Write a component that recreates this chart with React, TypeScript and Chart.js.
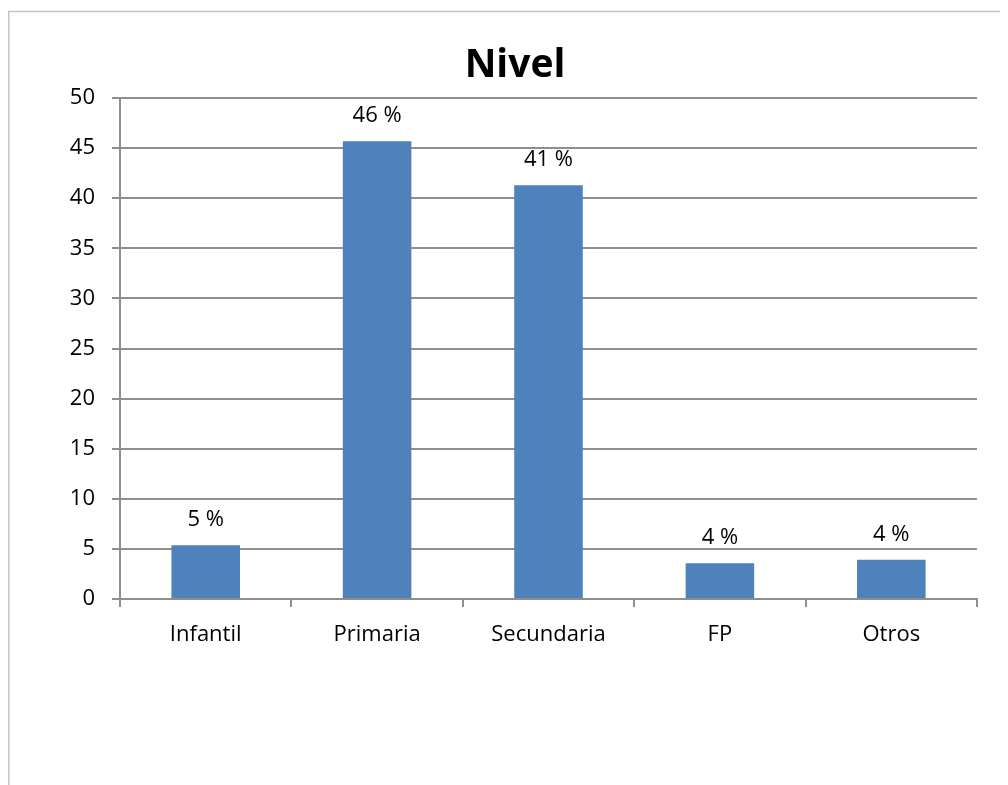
import React, { useEffect, useRef } from "react";
import { Chart, registerables } from "chart.js";

Chart.register(...registerables);

const categories = ["Infantil", "Primaria", "Secundaria", "FP", "Otros"];
const percentages = [5.36, 45.68, 41.3, 3.56, 3.92];
const yTicks = [0, 5, 10, 15, 20, 25, 30, 35, 40, 45, 50];
const chartTitle = "Nivel";

const FONT = "'Open Sans', sans-serif";
const GRID = "#8e8e8e";
const BAR = "#4f81bd";

// Frame, title and the "NN %" labels above each bar
const decorations = {
  id: "decorations",
  beforeDraw(chart: Chart) {
    const ctx = chart.ctx;
    ctx.save();
    ctx.fillStyle = "#ffffff";
    ctx.fillRect(0, 0, chart.width, chart.height);
    ctx.strokeStyle = "#c4c4c4";
    ctx.lineWidth = 1.5;
    ctx.beginPath();
    ctx.moveTo(0.75, chart.height);
    ctx.lineTo(0.75, 3.5);
    ctx.lineTo(chart.width, 3.5);
    ctx.stroke();
    ctx.restore();
  },
  afterDatasetsDraw(chart: Chart) {
    const ctx = chart.ctx;
    ctx.save();
    ctx.fillStyle = "#000000";
    ctx.textAlign = "center";
    ctx.textBaseline = "alphabetic";
    ctx.font = `bold 39px ${FONT}`;
    ctx.fillText(chartTitle, 507, 69);
    ctx.font = `22px ${FONT}`;
    const meta = chart.getDatasetMeta(0);
    meta.data.forEach((bar: any, i: number) => {
      const v = percentages[i];
      ctx.fillText(`${Math.round(v)} %`, bar.x, bar.y - 19);
    });
    ctx.restore();
  },
};

export default function App() {
  const canvasRef = useRef<HTMLCanvasElement | null>(null);

  useEffect(() => {
    if (!canvasRef.current) return;
    const chart = new Chart(canvasRef.current, {
      type: "bar",
      data: {
        labels: categories,
        datasets: [
          {
            data: percentages,
            backgroundColor: BAR,
            borderWidth: 0,
            barPercentage: 0.4,
            categoryPercentage: 1,
          },
        ],
      },
      plugins: [decorations],
      options: {
        animation: false,
        responsive: true,
        maintainAspectRatio: false,
        layout: { padding: { left: 0, right: 31, top: 90, bottom: 126 } },
        plugins: {
          legend: { display: false },
          title: { display: false },
          tooltip: { enabled: false },
        },
        scales: {
          x: {
            offset: true,
            grid: {
              offset: true,
              display: true,
              drawOnChartArea: false,
              color: GRID,
              lineWidth: 2,
              tickLength: 8,
            },
            border: { color: GRID, width: 2 },
            ticks: {
              color: "#000000",
              font: { family: FONT, size: 22 },
              padding: 15,
              maxRotation: 0,
            },
            afterFit(scale: any) {
              scale.height = 60;
            },
          },
          y: {
            min: 0,
            max: 50,
            afterBuildTicks(scale: any) {
              scale.ticks = yTicks.map((v) => ({ value: v }));
            },
            grid: {
              color: GRID,
              lineWidth: 2,
              tickLength: 8,
            },
            border: { color: GRID, width: 2 },
            ticks: {
              color: "#000000",
              font: { family: FONT, size: 22 },
              padding: 17,
            },
            afterFit(scale: any) {
              scale.width = 112;
            },
          },
        },
      },
    });
    return () => chart.destroy();
  }, []);

  return (
    <div style={{ width: 1000, height: 777, position: "relative" }}>
      <canvas ref={canvasRef} />
    </div>
  );
}
